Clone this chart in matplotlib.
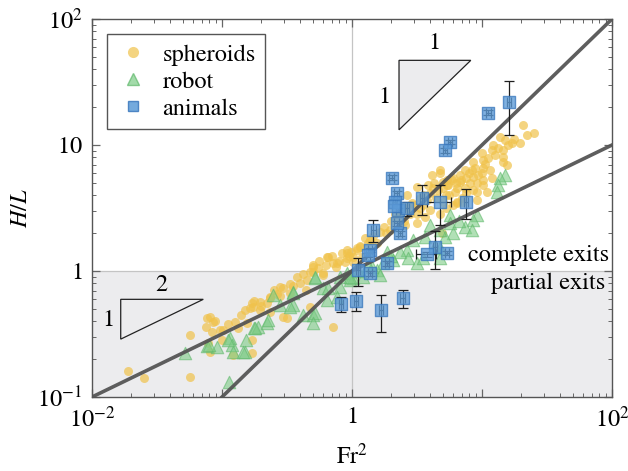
"""
Exit height H/L against Fr^2 for spheroids, robot and animals (log-log).
"""

import matplotlib

matplotlib.use("Agg")
import matplotlib.pyplot as plt
import numpy as np
from matplotlib.patches import Polygon
from matplotlib.ticker import FixedLocator, FuncFormatter, LogLocator, NullFormatter

# spheroids, values as log10
spheroid_log_fr2 = [
    -1.725, -1.598, -1.246, -1.246, -1.092, -1.067, -1.123, -1.079, -1.105, -1.092,
    -1.015, -1.002, -0.900, -0.823, -0.771, -0.750, -0.810, -0.771, -0.771, -0.913,
    -1.118, -0.990, -0.785, -0.708, -0.631, -0.631, -0.554, -0.477, -0.502, -0.400,
    -0.348, -0.323, -0.298, -0.195, -0.144, -0.221, -0.144, -0.054, -0.041, 0.010,
    0.062, 0.138, -0.182, -0.118, -0.041, 0.036, -0.298, -0.221, -0.528, -0.631,
    -0.708, -0.760, -0.528, -0.323, -0.450, -0.580, -0.260, -0.100, -0.350,
    1.318, 1.400, 1.344, 1.292, 1.228, 1.177, 1.138, 1.087, 1.075, 0.998,
    1.164, 1.164, 1.164, 1.190, 1.010, 0.933, 1.010, 0.998, 1.062, 0.921,
    0.869, 0.831, 0.933, 1.010, 1.075, 0.767, 0.831, 0.908, 0.959, 1.010,
    0.728, 0.805, 0.869, 0.933, 0.792, 0.959, 0.677, 0.703, 0.959, 1.036,
    0.613, 0.677, 0.728, 0.587, 0.497, 0.421, 0.395, 0.459, 0.523, 0.600,
    0.562, 0.497, 0.408, 0.292, 0.215, 0.100, 0.190, 0.036, -0.005, -0.041,
    0.010, 0.074, 0.805, 0.550, 0.650, 0.700, 0.750, 0.850, 0.450, 0.350,
    0.300, 0.250, 0.620, 0.520, 0.805, 0.690,
    0.33, 0.38, 0.43, 0.48, 0.50, 0.55, 0.58, 0.60, 0.63, 0.66,
    0.70, 0.72, 0.74, 0.78, 0.80, 0.84, 0.88, 0.90, 0.95, 0.97,
    1.02, 1.05, 1.10, 1.12, 1.20, 1.25, 0.88, 0.85, 0.78, 0.72,
    0.68, 0.16, 0.12, 0.06, -0.02, 0.40, 0.26,
    -0.65, -0.60, -0.55, -0.48, -0.42, -0.38, -0.30, -0.25, -0.20, -0.15,
    -0.08, -0.12, -0.70, -0.85, -0.95, -1.05, -0.88,
]
spheroid_log_hl = [
    -0.794, -0.847, -0.510, -0.839, -0.363, -0.402, -0.442, -0.482, -0.574, -0.640,
    -0.468, -0.548, -0.407, -0.310, -0.257, -0.240, -0.415, -0.548, -0.653, -0.667,
    -0.376, -0.468, -0.296, -0.310, -0.217, -0.323, -0.125, -0.177, -0.376, -0.098,
    -0.071, -0.005, 0.034, 0.114, 0.061, -0.032, -0.442, 0.074, 0.167, 0.114,
    0.193, 0.246, 0.114, 0.061, 0.140, 0.167, -0.005, -0.018, -0.137, -0.204,
    -0.243, -0.283, -0.363, -0.283, -0.120, -0.180, 0.020, 0.080, -0.150,
    1.159, 1.098, 1.079, 1.013, 1.013, 1.040, 1.066, 1.000, 0.960, 0.934,
    0.960, 0.907, 0.867, 0.841, 0.881, 0.867, 0.815, 0.775, 0.802, 0.802,
    0.802, 0.762, 0.749, 0.722, 0.736, 0.722, 0.709, 0.696, 0.696, 0.683,
    0.683, 0.656, 0.656, 0.643, 0.630, 0.563, 0.802, 0.709, 0.630, 0.630,
    0.762, 0.775, 0.722, 0.683, 0.669, 0.603, 0.510, 0.537, 0.497, 0.484,
    0.431, 0.379, 0.365, 0.325, 0.312, 0.259, 0.220, 0.180, 0.154, 0.101,
    0.074, 0.114, 0.537, 0.600, 0.580, 0.550, 0.600, 0.580, 0.450, 0.420,
    0.400, 0.350, 0.660, 0.580, 0.550, 0.300,
    0.45, 0.47, 0.50, 0.52, 0.45, 0.52, 0.56, 0.62, 0.70, 0.64,
    0.66, 0.60, 0.68, 0.74, 0.70, 0.72, 0.74, 0.78, 0.82, 0.76,
    0.85, 0.90, 0.92, 0.98, 1.00, 1.05, 0.62, 0.55, 0.52, 0.50,
    0.45, 0.28, 0.22, 0.20, 0.12, 0.40, 0.30,
    -0.25, -0.15, -0.20, -0.10, -0.05, -0.02, 0.05, 0.08, 0.05, 0.12,
    0.14, 0.03, -0.28, -0.35, -0.42, -0.40, -0.45,
]

# robot, values as log10
robot_log_fr2 = [
    -1.285, -1.118, -1.041, -0.938, -0.925, -0.913, -0.815, -0.823, -0.754, -0.944,
    -1.098, -0.951, -0.836, -0.721, -0.656, -0.605, -0.451, -0.451, -0.554, -0.375,
    -0.298, -0.285, -0.195, -0.221, -0.092, -0.041, 0.010, -0.477, -0.644, -0.746,
    -0.285, -0.298, -0.285, -0.182, -0.118, -0.092, -0.015, -0.451,
    1.177, 1.138, 1.126, 1.113, 0.959, 0.933, 0.869, 0.921, 0.754, 0.779,
    0.715, 0.754, 0.677, 0.600, 0.562, 0.472, 0.421, 0.369, 0.433, 0.318,
    0.267, 0.241, 0.190, 0.151, 0.215, 0.087, -0.015, 0.497, 0.549, 0.677,
    0.640, 0.820, 0.050, 0.120, 0.300, 0.680,
]
robot_log_hl = [
    -0.648, -0.595, -0.601, -0.534, -0.587, -0.640, -0.548, -0.640, -0.455, -0.879,
    -0.587, -0.548, -0.640, -0.442, -0.415, -0.190, -0.164, -0.270, -0.270, -0.349,
    -0.349, -0.058, -0.230, -0.137, -0.125, -0.018, -0.058, -0.283, -0.389, -0.455,
    -0.336, -0.415, -0.045, -0.137, -0.204, -0.045, -0.071, -0.177,
    0.762, 0.736, 0.683, 0.630, 0.444, 0.405, 0.352, 0.325, 0.444, 0.299,
    0.272, 0.379, 0.325, 0.365, 0.272, 0.246, 0.167, 0.153, 0.101, 0.087,
    0.153, 0.061, 0.008, 0.034, -0.032, -0.045, -0.045, 0.061, 0.101, 0.101,
    0.200, 0.400, 0.000, 0.050, 0.120, 0.180,
]

# animals with error bars (linear values)
animal_fr2 = [16.1, 11.2, 5.68, 5.19, 2.02, 2.21, 2.14, 2.27, 2.64, 3.44,
              4.75, 7.53, 1.46, 2.34, 2.21, 1.37, 1.33, 1.12, 1.37, 1.85,
              4.35, 3.75, 5.35, 0.82, 1.07, 1.66, 2.45, 2.10]
animal_hl = [22.1, 18.0, 10.6, 9.12, 5.51, 4.14, 3.55, 3.05, 3.14, 3.78,
             3.56, 3.55, 2.11, 1.99, 2.39, 1.47, 1.34, 1.02, 0.96, 1.15,
             1.56, 1.36, 1.39, 0.547, 0.581, 0.49, 0.607, 3.30]
animal_fr2_err = [0.6, 0.45, 0.22, 0.2, 0.08, 0.09, 0.08, 0.09, 0.1, 0.13,
                  1.0, 0.3, 0.06, 0.09, 0.09, 0.05, 0.05, 0.04, 0.05, 0.07,
                  0.17, 0.67, 0.2, 0.03, 0.04, 0.06, 0.1, 0.08]
animal_hl_err = [10.1, 0.8, 0.45, 0.4, 0.22, 0.17, 0.15, 0.12, 0.4, 1.0,
                 1.25, 0.95, 0.42, 0.08, 0.1, 0.06, 0.05, 0.26, 0.04, 0.05,
                 0.52, 0.06, 0.06, 0.075, 0.1, 0.16, 0.095, 0.13]

# scaling lines H/L = Fr^(2*slope)
fit_slopes = [1.0, 0.5]
fit_starts = [0.1, 0.01]

plt.rcParams["font.family"] = ["STIXGeneral", "Liberation Serif", "DejaVu Serif"]
plt.rcParams["mathtext.fontset"] = "stix"
plt.rcParams["font.size"] = 17.5

fig = plt.figure(figsize=(6.28, 4.71), dpi=100)
ax = fig.add_axes([0.1465, 0.1571, 0.828, 0.8025])
ax.set_xscale("log")
ax.set_yscale("log")
ax.set_xlim(1e-2, 1e2)
ax.set_ylim(1e-1, 1e2)

ax.axhspan(1e-1, 1, color="#ececee", zorder=0, lw=0)
ax.axhline(1, color="#c4c4c4", lw=0.9, zorder=0.5)
ax.axvline(1, color="#c4c4c4", lw=0.9, zorder=0.5)

ax.scatter(10 ** np.array(spheroid_log_fr2), 10 ** np.array(spheroid_log_hl),
           s=42, marker="o", color="#f0c24a", alpha=0.7, lw=0, zorder=2)
ax.scatter(10 ** np.array(robot_log_fr2), 10 ** np.array(robot_log_hl),
           s=80, marker="^", facecolor="#7dcc86", edgecolor="#5fb86b",
           alpha=0.6, lw=0.8, zorder=3)

for slope, x0 in zip(fit_slopes, fit_starts):
    xs = np.array([x0, 1e2])
    ax.plot(xs, xs ** slope, color="#555555", lw=2.6, alpha=0.95, zorder=4)

ax.errorbar(animal_fr2, animal_hl, xerr=animal_fr2_err, yerr=animal_hl_err,
            fmt="none", ecolor="#1e1e1e", elinewidth=0.9, capsize=3.5,
            capthick=0.9, zorder=4.5)
ax.scatter(animal_fr2, animal_hl, s=70, marker="s", facecolor="#5c9bd8",
           edgecolor="#3a78bd", alpha=0.78, lw=1.0, zorder=5)

# slope triangles
ax.add_patch(Polygon([(2.3, 47.0), (8.2, 47.0), (2.3, 13.2)], closed=True,
                     facecolor="#ececee", edgecolor="#222222", lw=0.9, zorder=1))
ax.text(4.27, 64.5, "1", ha="center", va="center")
ax.text(1.79, 24.0, "1", ha="center", va="center")
ax.add_patch(Polygon([(0.01663, 0.596), (0.0718, 0.596), (0.01663, 0.288)],
                     closed=True, facecolor="none", edgecolor="#222222",
                     lw=0.9, zorder=1))
ax.text(0.0344, 0.775, "2", ha="center", va="center")
ax.text(0.01327, 0.408, "1", ha="center", va="center")

ax.text(0.994, 0.376, "complete exits", transform=ax.transAxes,
        ha="right", va="center")
ax.text(0.987, 0.302, "partial exits", transform=ax.transAxes,
        ha="right", va="center")

# ticks
x_labels = {-2: "$10^{-2}$", 0: "$1$", 2: "$10^{2}$"}
y_labels = {-1: "$10^{-1}$", 0: "$1$", 1: "$10$", 2: "$10^{2}$"}
ax.xaxis.set_major_locator(FixedLocator([1e-2, 1e-1, 1, 1e1, 1e2]))
ax.yaxis.set_major_locator(FixedLocator([1e-1, 1, 1e1, 1e2]))
ax.xaxis.set_major_formatter(
    FuncFormatter(lambda v, _: x_labels.get(int(round(np.log10(v))), "")))
ax.yaxis.set_major_formatter(
    FuncFormatter(lambda v, _: y_labels.get(int(round(np.log10(v))), "")))
for axis in (ax.xaxis, ax.yaxis):
    axis.set_minor_locator(LogLocator(base=10, subs=np.arange(2, 10)))
    axis.set_minor_formatter(NullFormatter())
ax.tick_params(which="both", direction="in", top=True, right=True,
               color="#666666")
ax.tick_params(which="major", length=6, width=0.9, pad=7)
ax.tick_params(which="minor", length=3, width=0.7)
for spine in ax.spines.values():
    spine.set_color("#555555")
    spine.set_linewidth(1.0)

ax.set_xlabel("Fr$^2$", labelpad=8)
ax.set_ylabel("$H/L$", labelpad=4)

handles = [
    plt.Line2D([], [], ls="none", marker="o", ms=8, color="#f0c24a", alpha=0.7,
               mew=0),
    plt.Line2D([], [], ls="none", marker="^", ms=9, mfc="#7dcc86",
               mec="#5fb86b", alpha=0.7),
    plt.Line2D([], [], ls="none", marker="s", ms=6.5, mfc="#5c9bd8",
               mec="#3a78bd", alpha=0.85),
]
leg = ax.legend(handles, ["spheroids", "robot", "animals"], loc="upper left",
                bbox_to_anchor=(0.028, 0.96), fancybox=False, framealpha=1,
                edgecolor="#555555", borderpad=0.4, labelspacing=0.2,
                handletextpad=0.5, handlelength=1.4, borderaxespad=0)
leg.get_frame().set_linewidth(1.0)

fig.savefig("out.png", dpi=100)
